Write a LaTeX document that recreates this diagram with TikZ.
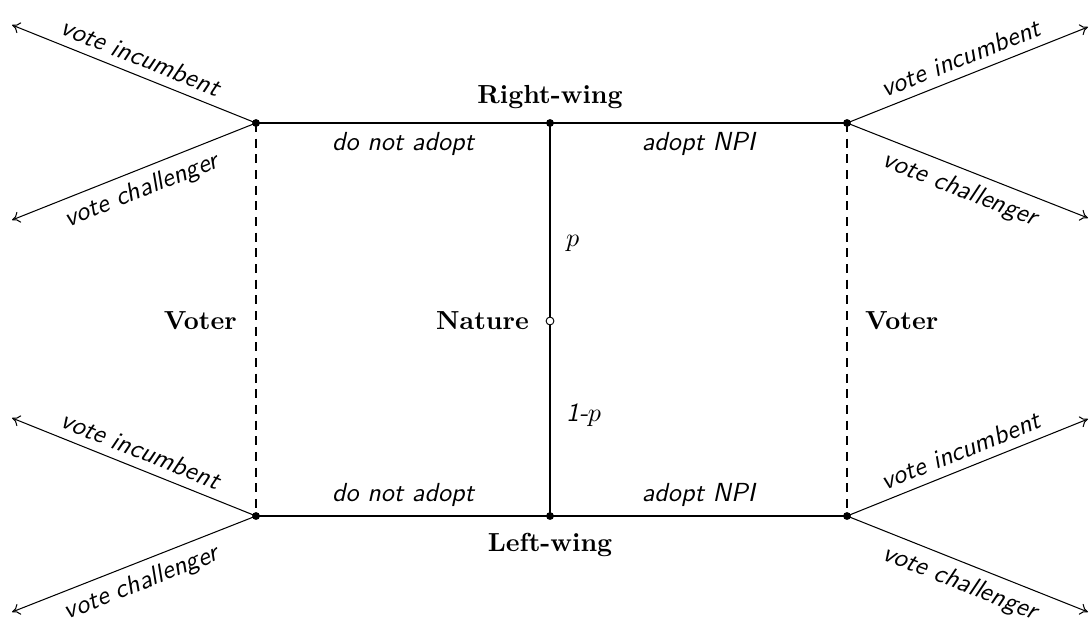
\documentclass[tikz,border=0pt]{standalone}
\usetikzlibrary{arrows.meta}
\begin{document}
\begin{tikzpicture}[x=0.383pt,y=-0.383pt,
  dot/.style={circle,fill=black,inner sep=0pt,minimum size=3pt},
  odot/.style={circle,draw=black,fill=white,inner sep=0pt,minimum size=3pt,line width=0.35pt},
  lbl/.style={font=\sffamily\itshape},
  player/.style={font=\bfseries},
  branch/.style={line width=0.4pt},
  choice/.style={line width=0.4pt,-{To[length=3pt,width=4.4pt]}},
  infoset/.style={line width=0.4pt,dash pattern=on 3.5pt off 2.5pt}]
\useasboundingbox (0,0) rectangle (1089,619);
% decision nodes
\coordinate (TL) at (256,123);
\coordinate (TR) at (847,123);
\coordinate (BL) at (256,516);
\coordinate (BR) at (847,516);
\coordinate (TM) at (550,123);
\coordinate (BM) at (550,516);
\coordinate (NAT) at (550,321);
% tips
\coordinate (TLi) at (12,25);
\coordinate (TLc) at (12,220);
\coordinate (TRi) at (1088,27);
\coordinate (TRc) at (1088,218);
\coordinate (BLi) at (12,418);
\coordinate (BLc) at (12,612);
\coordinate (BRi) at (1088,419);
\coordinate (BRc) at (1088,612);
% main branches
\draw[infoset] (TL) -- (BL);
\draw[infoset] (TR) -- (BR);
\draw[branch] (TL) -- node[lbl,below] {do not adopt} (TM);
\draw[branch] (TM) -- node[lbl,below] {adopt NPI} (TR);
\draw[branch] (BL) -- node[lbl,above] {do not adopt} (BM);
\draw[branch] (BM) -- node[lbl,above] {adopt NPI} (BR);
\draw[branch] (TM) -- (NAT) -- (BM);
% voter choices
\draw[choice] (TL) -- (TLi);
\path (TLi) -- node[lbl,above,sloped] {vote incumbent} (TL);
\draw[choice] (TL) -- (TLc);
\path (TLc) -- node[lbl,below,sloped] {vote challenger} (TL);
\draw[choice] (TR) -- node[lbl,above,sloped] {vote incumbent} (TRi);
\draw[choice] (TR) -- node[lbl,below,sloped] {vote challenger} (TRc);
\draw[choice] (BL) -- (BLi);
\path (BLi) -- node[lbl,above,sloped] {vote incumbent} (BL);
\draw[choice] (BL) -- (BLc);
\path (BLc) -- node[lbl,below,sloped] {vote challenger} (BL);
\draw[choice] (BR) -- node[lbl,above,sloped] {vote incumbent} (BRi);
\draw[choice] (BR) -- node[lbl,below,sloped] {vote challenger} (BRc);
% dots
\foreach \c in {TL,TR,BL,BR,TM,BM} \node[dot] at (\c) {};
\node[odot] (nature) at (NAT) {};
% labels
\node[player] (rw) at (550,97) {Right-wing};
\node[player] (lw) at (550,545) {Left-wing};
\node[player,anchor=east] (natl) at (538,321) {Nature};
\node[player,anchor=east] (v1) at (246,321) {Voter};
\node[player,anchor=west] (v2) at (856,321) {Voter};
\node[anchor=west] (pl) at (557,243) {$p$};
\node[lbl,anchor=west] (ql) at (557,415) {1-$p$};
\end{tikzpicture}
\end{document}
